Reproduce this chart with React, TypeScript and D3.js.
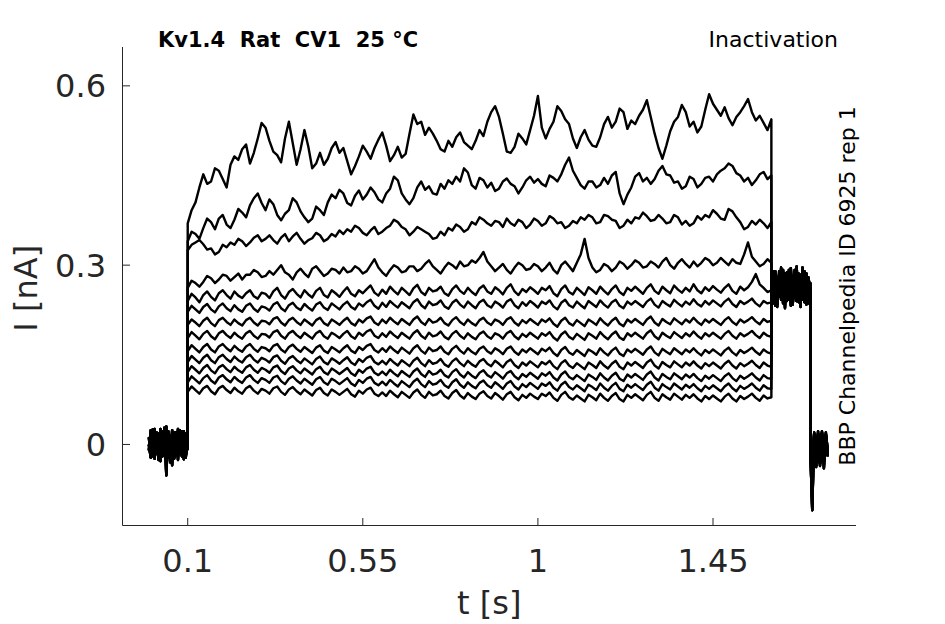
import React from 'react';
import * as d3 from 'd3';

// ---- axis ticks ----
const xTicks = [0.1, 0.55, 1, 1.45];
const xTickLabels = ['0.1', '0.55', '1', '1.45'];
const yTicks = [0, 0.3, 0.6];
const yTickLabels = ['0', '0.3', '0.6'];

// ---- sampling times (s) ----
const preStart = 0.0;
const preStep = 0.005;
const plateauStart = 0.1;
const plateauStep = 0.01;
const tail1Start = 1.6;
const tail2Start = 1.7;
const tailStep = 0.005;

// ---- plateau currents (pA) per sweep, 0.1 s .. 1.6 s every 0.01 s ----
const T1 = [370, 392, 405, 430, 452, 436, 440, 462, 458, 444, 430, 468, 482, 476, 494, 502, 470, 488, 512, 538,
  530, 508, 490, 484, 472, 512, 540, 504, 468, 494, 526, 498, 462, 470, 488, 468, 478, 496, 506, 488,
  496, 474, 452, 466, 482, 500, 490, 478, 496, 510, 522, 500, 474, 484, 498, 480, 486, 520, 552, 536,
  540, 518, 530, 520, 508, 494, 490, 508, 498, 514, 522, 506, 500, 494, 508, 526, 516, 540, 556, 566,
  548, 520, 490, 488, 498, 520, 512, 502, 526, 550, 583, 530, 512, 528, 540, 566, 558, 544, 536, 512,
  496, 514, 526, 510, 500, 498, 514, 536, 548, 530, 540, 562, 556, 528, 542, 536, 550, 560, 576, 548,
  520, 496, 478, 500, 524, 540, 548, 568, 556, 532, 540, 522, 532, 560, 586, 570, 560, 550, 564, 546,
  534, 548, 556, 566, 578, 556, 542, 550, 538, 526, 544];
const T2 = [340, 356, 352, 344, 362, 378, 372, 360, 378, 384, 368, 362, 376, 394, 388, 380, 400, 412, 420, 404,
  392, 410, 402, 384, 375, 386, 392, 412, 405, 390, 380, 372, 378, 398, 392, 384, 405, 418, 412, 426,
  420, 404, 400, 416, 425, 410, 418, 430, 422, 410, 405, 420, 428, 448, 442, 420, 410, 402, 412, 430,
  440, 426, 432, 420, 418, 436, 428, 442, 436, 448, 440, 462, 455, 434, 428, 446, 442, 430, 438, 424,
  428, 440, 445, 436, 432, 420, 430, 442, 448, 438, 444, 436, 432, 450, 446, 440, 452, 468, 480, 458,
  446, 434, 428, 440, 440, 430, 434, 446, 436, 450, 456, 420, 402, 418, 430, 448, 454, 440, 446, 436,
  444, 458, 466, 452, 450, 438, 440, 428, 432, 448, 444, 430, 436, 446, 448, 440, 452, 458, 462, 470,
  466, 454, 450, 440, 446, 434, 442, 452, 456, 444, 450];
const T3 = [325, 334, 338, 342, 335, 326, 328, 318, 322, 334, 330, 338, 334, 344, 340, 332, 338, 346, 350, 340,
  344, 350, 342, 336, 346, 352, 340, 348, 354, 344, 336, 342, 345, 354, 350, 340, 344, 352, 348, 358,
  352, 360, 356, 366, 362, 354, 350, 358, 364, 352, 356, 362, 366, 376, 372, 364, 360, 350, 356, 364,
  360, 356, 352, 344, 346, 356, 350, 362, 358, 368, 364, 356, 360, 372, 368, 380, 376, 370, 366, 374,
  372, 364, 378, 370, 366, 376, 372, 362, 368, 378, 374, 366, 370, 382, 378, 370, 372, 362, 366, 374,
  370, 380, 376, 384, 380, 370, 372, 384, 382, 376, 374, 362, 366, 376, 370, 380, 378, 388, 382, 374,
  376, 384, 378, 370, 372, 384, 380, 368, 374, 366, 370, 382, 376, 384, 380, 392, 386, 378, 376, 394,
  390, 380, 372, 360, 364, 374, 368, 376, 370, 362, 372];
const T4 = [262, 274, 270, 264, 272, 282, 278, 270, 276, 284, 282, 274, 280, 286, 276, 284, 284, 292, 288, 280,
  282, 290, 284, 292, 300, 288, 284, 276, 288, 294, 286, 280, 294, 298, 290, 282, 286, 294, 292, 286,
  296, 288, 290, 298, 294, 286, 290, 300, 310, 296, 288, 282, 292, 300, 296, 288, 290, 298, 298, 290,
  294, 302, 308, 298, 292, 286, 296, 304, 300, 294, 306, 298, 300, 308, 304, 312, 322, 306, 298, 290,
  296, 302, 292, 286, 296, 304, 300, 292, 294, 302, 298, 290, 296, 304, 292, 286, 300, 306, 298, 290,
  304, 318, 344, 312, 296, 288, 292, 302, 298, 290, 296, 306, 302, 294, 300, 308, 304, 296, 298, 306,
  302, 296, 306, 312, 300, 294, 304, 310, 302, 296, 306, 298, 304, 312, 308, 300, 304, 312, 306, 300,
  310, 304, 302, 318, 338, 314, 306, 298, 302, 310, 304];
const T5 = [240, 252, 246, 238, 250, 256, 247, 241, 253, 258, 250, 244, 256, 249, 245, 253, 258, 248, 244, 254,
  252, 245, 256, 262, 250, 244, 255, 260, 252, 246, 258, 251, 246, 257, 262, 250, 246, 258, 253, 247,
  256, 263, 252, 248, 258, 253, 260, 266, 254, 249, 259, 252, 264, 257, 251, 262, 256, 250, 261, 267,
  255, 250, 262, 256, 258, 264, 253, 249, 260, 266, 257, 252, 262, 255, 250, 261, 266, 256, 252, 263,
  258, 251, 262, 268, 256, 250, 260, 255, 263, 258, 252, 262, 258, 265, 253, 248, 260, 266, 255, 251,
  262, 256, 250, 263, 258, 252, 264, 257, 251, 260, 266, 255, 250, 262, 257, 264, 258, 252, 262, 268,
  257, 252, 264, 258, 253, 266, 259, 254, 262, 256, 268, 258, 253, 263, 257, 265, 259, 254, 262, 268,
  257, 252, 264, 258, 263, 272, 285, 268, 262, 255, 258];
const T6 = [222, 232, 226, 220, 230, 235, 226, 221, 231, 236, 228, 223, 233, 226, 222, 232, 236, 227, 222, 231,
  229, 224, 234, 238, 228, 223, 233, 237, 229, 225, 235, 229, 224, 234, 238, 229, 225, 236, 231, 226,
  234, 239, 230, 226, 236, 231, 238, 242, 232, 227, 237, 230, 240, 234, 229, 238, 233, 228, 238, 243,
  233, 228, 239, 233, 235, 241, 231, 227, 237, 242, 234, 229, 239, 233, 228, 238, 242, 233, 229, 239,
  235, 229, 239, 243, 233, 228, 238, 232, 240, 235, 229, 239, 235, 241, 231, 226, 237, 242, 233, 229,
  239, 233, 228, 240, 235, 230, 241, 234, 229, 238, 242, 232, 228, 239, 234, 240, 235, 230, 239, 244,
  234, 229, 240, 235, 231, 242, 236, 231, 239, 234, 243, 235, 231, 240, 234, 241, 236, 231, 239, 244,
  235, 230, 240, 235, 239, 244, 236, 231, 240, 236, 238];
const T7 = [200, 209, 204, 198, 207, 212, 203, 198, 208, 212, 205, 200, 209, 203, 199, 208, 212, 204, 199, 207,
  206, 201, 210, 213, 204, 199, 208, 212, 205, 200, 209, 204, 199, 208, 212, 203, 199, 209, 205, 200,
  207, 212, 203, 199, 209, 204, 211, 214, 204, 200, 209, 203, 212, 206, 201, 210, 205, 200, 209, 214,
  205, 200, 210, 204, 206, 212, 203, 199, 208, 213, 205, 200, 209, 203, 199, 208, 212, 204, 200, 209,
  206, 200, 209, 213, 204, 199, 208, 203, 210, 205, 200, 209, 205, 211, 202, 197, 207, 212, 203, 199,
  208, 203, 198, 209, 205, 200, 211, 204, 199, 207, 212, 202, 198, 209, 204, 210, 205, 200, 209, 214,
  204, 199, 210, 205, 201, 211, 206, 201, 209, 204, 212, 205, 200, 209, 204, 210, 205, 200, 208, 213,
  205, 200, 209, 204, 208, 213, 206, 201, 210, 205, 207];
const T8 = [178, 188, 182, 176, 185, 190, 181, 176, 186, 190, 183, 178, 187, 181, 177, 186, 190, 182, 177, 185,
  184, 179, 188, 191, 182, 177, 186, 190, 183, 178, 187, 182, 177, 186, 190, 181, 177, 187, 183, 178,
  185, 190, 181, 177, 187, 182, 189, 192, 182, 178, 186, 180, 189, 183, 178, 187, 182, 177, 186, 191,
  182, 177, 187, 181, 183, 189, 180, 176, 185, 190, 182, 177, 186, 180, 176, 185, 189, 181, 177, 186,
  183, 177, 186, 190, 181, 176, 185, 180, 187, 182, 177, 186, 182, 188, 179, 174, 184, 189, 180, 176,
  185, 180, 175, 186, 182, 177, 188, 181, 176, 184, 189, 179, 175, 186, 181, 187, 182, 177, 186, 191,
  181, 176, 187, 182, 178, 188, 183, 178, 186, 181, 189, 182, 177, 186, 181, 187, 182, 177, 185, 190,
  182, 177, 186, 181, 185, 190, 183, 178, 187, 182, 180];
const T9 = [156, 166, 160, 154, 163, 168, 159, 154, 164, 168, 161, 156, 165, 159, 155, 164, 168, 160, 155, 163,
  161, 156, 165, 168, 159, 154, 163, 167, 160, 155, 163, 158, 153, 162, 166, 157, 153, 163, 159, 154,
  161, 166, 157, 153, 163, 158, 165, 168, 158, 154, 161, 155, 164, 158, 153, 162, 157, 152, 161, 166,
  157, 152, 162, 156, 158, 164, 155, 151, 160, 165, 157, 152, 161, 155, 151, 160, 164, 156, 152, 161,
  157, 151, 160, 164, 155, 150, 159, 154, 161, 156, 151, 160, 156, 162, 153, 148, 158, 163, 154, 150,
  158, 153, 148, 159, 155, 150, 161, 154, 149, 157, 162, 152, 148, 159, 154, 160, 155, 150, 159, 164,
  154, 149, 160, 155, 151, 161, 156, 151, 159, 154, 161, 154, 149, 158, 153, 159, 154, 149, 157, 162,
  154, 149, 158, 153, 157, 162, 155, 150, 159, 154, 152];
const T10 = [138, 148, 142, 136, 145, 150, 141, 136, 146, 150, 143, 138, 147, 141, 137, 146, 150, 142, 137, 145,
  142, 137, 146, 149, 140, 135, 144, 148, 141, 136, 144, 139, 134, 143, 147, 138, 134, 144, 140, 135,
  141, 146, 137, 133, 143, 138, 145, 148, 138, 134, 140, 134, 143, 137, 132, 141, 136, 131, 140, 145,
  136, 131, 141, 135, 137, 143, 134, 130, 139, 144, 136, 131, 140, 134, 130, 139, 143, 135, 131, 140,
  135, 129, 138, 142, 133, 128, 137, 132, 139, 134, 129, 138, 134, 140, 131, 126, 136, 141, 132, 128,
  136, 131, 126, 137, 133, 128, 139, 132, 127, 135, 140, 130, 126, 137, 132, 138, 133, 128, 137, 142,
  132, 127, 138, 133, 129, 139, 134, 129, 137, 132, 139, 132, 127, 136, 131, 137, 132, 127, 135, 140,
  132, 127, 136, 131, 135, 140, 133, 128, 137, 132, 130];
const T11 = [121, 131, 125, 119, 128, 133, 124, 119, 129, 133, 126, 121, 130, 124, 120, 129, 133, 125, 120, 128,
  125, 120, 129, 132, 123, 118, 127, 131, 124, 119, 127, 122, 117, 126, 130, 121, 117, 127, 123, 118,
  123, 128, 119, 115, 125, 120, 127, 130, 120, 116, 122, 116, 125, 119, 114, 123, 118, 113, 122, 127,
  118, 113, 123, 117, 119, 125, 116, 112, 121, 126, 117, 112, 121, 115, 111, 120, 124, 116, 112, 121,
  116, 110, 119, 123, 114, 109, 118, 113, 120, 115, 110, 119, 115, 121, 112, 107, 117, 122, 113, 109,
  116, 111, 106, 117, 113, 108, 119, 112, 107, 115, 120, 110, 106, 117, 112, 118, 113, 108, 117, 122,
  112, 107, 118, 113, 109, 119, 114, 109, 117, 112, 118, 111, 106, 115, 110, 116, 111, 106, 114, 119,
  111, 106, 115, 110, 114, 119, 112, 107, 116, 111, 110];
const T12 = [104, 114, 108, 102, 111, 116, 107, 102, 112, 116, 109, 104, 113, 107, 103, 112, 116, 108, 103, 111,
  108, 103, 112, 115, 106, 101, 110, 114, 107, 102, 110, 105, 100, 109, 113, 104, 100, 110, 106, 101,
  106, 111, 102, 98, 108, 103, 110, 113, 103, 99, 105, 99, 108, 102, 97, 106, 101, 96, 105, 110,
  101, 96, 106, 100, 102, 108, 99, 95, 104, 109, 100, 95, 104, 98, 94, 103, 107, 99, 95, 104,
  99, 93, 102, 106, 97, 92, 101, 96, 103, 98, 93, 102, 98, 104, 95, 90, 100, 105, 96, 92,
  99, 94, 89, 100, 96, 91, 102, 95, 90, 98, 103, 93, 89, 100, 95, 101, 96, 91, 100, 105,
  95, 90, 101, 96, 92, 102, 97, 92, 100, 95, 101, 94, 89, 98, 93, 99, 94, 89, 97, 102,
  94, 89, 98, 93, 97, 102, 95, 90, 99, 94, 93];
const T13 = [88, 97, 91, 85, 94, 98, 89, 84, 94, 98, 91, 86, 95, 89, 85, 94, 98, 90, 85, 93,
  90, 85, 94, 97, 88, 83, 92, 96, 89, 84, 92, 87, 82, 91, 95, 86, 82, 92, 88, 83,
  88, 93, 84, 80, 90, 85, 92, 95, 85, 81, 87, 81, 90, 84, 79, 88, 83, 78, 87, 92,
  83, 78, 88, 82, 84, 90, 81, 77, 86, 91, 82, 77, 86, 80, 76, 85, 89, 81, 77, 86,
  81, 75, 84, 88, 79, 74, 83, 78, 85, 80, 76, 85, 81, 87, 78, 73, 83, 88, 79, 75,
  82, 77, 72, 83, 79, 74, 85, 78, 73, 81, 86, 76, 72, 83, 78, 84, 79, 74, 83, 88,
  78, 73, 84, 79, 75, 85, 80, 75, 83, 78, 84, 77, 72, 81, 76, 82, 77, 72, 80, 85,
  77, 72, 81, 76, 80, 85, 78, 73, 82, 77, 79];

// ---- holding segments (pA), shared recordings before / after the step ----
const preA = [0, -22, 25, -18, 20, -26, 15, -20, 28, -15, 22, -30, 18, -24, 20, -12, 24, -20, 16, -22, 10];
const preB = [-10, 24, -20, 26, -16, 18, -28, 22, -18, 30, -22, 14, -35, 20, -18, 26, -16, 22, -25, 18, -8];
const preC = [12, -18, 22, -24, 14, -20, 26, -14, 18, -52, 20, -16, 24, -22, 15, -26, 20, -14, 22, -18, 6];
const tail1A = [265, 240, 290, 235, 285, 245, 292, 238, 280, 242, 295, 236, 288, 240, 284, 246, 290, 238, 286, 244, 270];
const tail1B = [255, 290, 232, 280, 248, 296, 236, 286, 240, 292, 232, 282, 246, 298, 238, 284, 242, 290, 234, 280, 260];
const tail1C = [250, 236, 284, 230, 290, 242, 282, 228, 288, 246, 278, 234, 292, 240, 286, 230, 296, 244, 280, 236, 255];
const tail2A = [-10, -110, 15, -35, 18, -30, 20, -28, 16, -20];
const tail2B = [5, -45, 20, -38, 14, -32, 22, -40, 12, -15];
const tail2C = [0, -60, 18, -30, 22, -36, 15, -25, 20, -10];

const plateauTraces = [T1, T2, T3, T4, T5, T6, T7, T8, T9, T10, T11, T12, T13];
const preTraces = [preA, preB, preC];
const tail1Traces = [tail1A, tail1B, tail1C];
const tail2Traces = [tail2A, tail2B, tail2C];

const titleText = 'Kv1.4  Rat  CV1  25 °C';
const protocolText = 'Inactivation';
const sideText = 'BBP Channelpedia ID 6925 rep 1';
const xLabel = 't [s]';
const yLabel = 'I [nA]';

export default function App() {
  const W = 945, H = 624;
  const left = 122.5, right = 856, top = 47, bottom = 525.5;
  const x = d3.scaleLinear().domain([-0.0676, 1.8175]).range([left, right]);
  const y = d3.scaleLinear().domain([-0.1356, 0.665]).range([bottom, top]);
  const line = d3.line<[number, number]>().x(d => x(d[0])).y(d => y(d[1]));
  const font = 'DejaVu Sans, sans-serif';
  const axisColor = '#262626';

  const paths = plateauTraces.map((tr, k) => {
    const pts: [number, number][] = [];
    preTraces[k % 3].forEach((v, i) => pts.push([preStart + i * preStep, v / 1000]));
    tr.forEach((v, i) => pts.push([plateauStart + i * plateauStep, v / 1000]));
    tail1Traces[k % 3].forEach((v, i) => pts.push([tail1Start + i * tailStep, v / 1000]));
    tail2Traces[k % 3].forEach((v, i) => pts.push([tail2Start + i * tailStep, v / 1000]));
    return line(pts) || '';
  });

  return (
    <svg width={W} height={H} style={{ position: 'absolute', left: 0, top: 0, background: '#fff' }}
      xmlns="http://www.w3.org/2000/svg">
      <rect x={0} y={0} width={W} height={H} fill="#fff" />
      <g fill="none" stroke="#000" strokeWidth={2.4} strokeLinejoin="round">
        {paths.map((d, i) => <path key={i} d={d} />)}
      </g>
      {/* axes */}
      <g stroke={axisColor} strokeWidth={1}>
        <line x1={left} x2={left} y1={top} y2={bottom} />
        <line x1={left} x2={right} y1={bottom} y2={bottom} />
        {yTicks.map((t, i) => <line key={'yt' + i} x1={left} x2={left + 7.5} y1={y(t)} y2={y(t)} />)}
        {xTicks.map((t, i) => <line key={'xt' + i} x1={x(t)} x2={x(t)} y1={bottom} y2={bottom - 7.5} />)}
      </g>
      <g fontFamily={font} fontSize={32} fill={axisColor}>
        {yTicks.map((t, i) => (
          <text key={'yl' + i} x={106} y={y(t)} dy="0.36em" textAnchor="end">{yTickLabels[i]}</text>
        ))}
        {xTicks.map((t, i) => (
          <text key={'xl' + i} x={x(t)} y={572} textAnchor="middle">{xTickLabels[i]}</text>
        ))}
        <text x={(left + right) / 2} y={614} textAnchor="middle">{xLabel}</text>
        <text transform={`translate(37,${(top + bottom) / 2 + 2}) rotate(-90)`} textAnchor="middle">{yLabel}</text>
      </g>
      <text x={158} y={46.5} fontFamily={font} fontSize={21} fontWeight="bold" fill="#000"
        style={{ whiteSpace: 'pre' }}>{titleText}</text>
      <text x={838} y={46.5} fontFamily={font} fontSize={22} fill="#000" textAnchor="end">{protocolText}</text>
      <text transform={`translate(855,286) rotate(-90)`} fontFamily={font} fontSize={22} fill="#000"
        textAnchor="middle">{sideText}</text>
    </svg>
  );
}
